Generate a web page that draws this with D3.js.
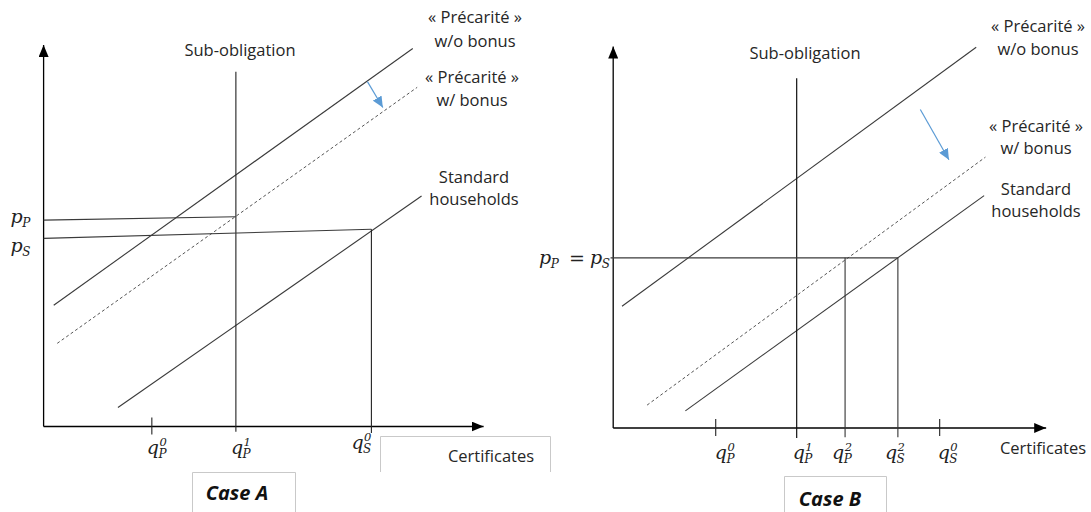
<!DOCTYPE html>
<html><head><meta charset="utf-8">
<script src="https://cdn.jsdelivr.net/npm/d3@7"></script>
<style>
body{margin:0;background:#fff;}
svg{display:block;}
.lbl{font-family:"Open Sans",Lato,sans-serif;font-size:16.5px;fill:#262626;}
.case{font-family:"Open Sans",Lato,sans-serif;font-size:20px;font-weight:bold;font-style:italic;fill:#111;}
.math{font-family:"DejaVu Serif","Liberation Serif",serif;font-style:italic;fill:#222;}
</style></head><body>
<svg id="c" width="1091" height="512"></svg>
<script>
// ---------- DATA (diagram units) ----------
// Case A
const caseA_woBonus   = [[0.23,3.18],[8.39,9.91]];
const caseA_wBonus    = [[0.31,2.18],[8.49,8.89]];
const caseA_standard  = [[1.69,0.50],[8.59,6.04]];
const caseA_subObl    = [[4.37,9.30],[4.37,-0.14]];
const caseA_pP        = [[0,5.41],[4.37,5.50]];
const caseA_pS        = [[0,4.93],[7.45,5.17]];
const caseA_dropS     = [[7.45,5.17],[7.45,-0.17]];
const caseA_shift     = [[7.36,9.04],[7.71,8.36]];
const caseA_qTicks    = [{base:"q",sub:"P",sup:"0",v:2.46},{base:"q",sub:"P",sup:"1",v:4.37},{base:"q",sub:"S",sup:"0",v:7.45}];
const caseA_smallTicks= [2.46];
const caseA_pLabels   = [{base:"p",sub:"P",v:5.41},{base:"p",sub:"S",v:4.93}];
// Case B
const caseB_woBonus   = [[0.20,3.19],[8.25,9.98]];
const caseB_wBonus    = [[0.77,0.60],[8.46,7.10]];
const caseB_standard  = [[1.64,0.45],[8.43,6.09]];
const caseB_subObl    = [[4.17,9.17],[4.17,-0.26]];
const caseB_p         = [[-0.06,4.46],[6.47,4.46]];
const caseB_dropP     = [[5.27,4.46],[5.27,-0.24]];
const caseB_dropS     = [[6.47,4.46],[6.47,-0.24]];
const caseB_shift     = [[6.98,8.35],[7.63,7.03]];
const caseB_qTicks    = [{base:"q",sub:"P",sup:"0",v:2.33},{base:"q",sub:"P",sup:"1",v:4.17},{base:"q",sub:"P",sup:"2",v:5.27},{base:"q",sub:"S",sup:"2",v:6.47},{base:"q",sub:"S",sup:"0",v:7.42}];
const caseB_smallTicks= [2.33,7.42];
// Text
const curveLabels = [["« Précarité »","w/o bonus"],["« Précarité »","w/ bonus"],["Standard","households"]];
const axisTitle = "Certificates";
const obligationLabel = "Sub-obligation";
const caseTitles = ["Case A","Case B"];

// ---------- LAYOUT ----------
const svg = d3.select("#c");
const defs = svg.append("defs");
function marker(id,color,w,h){
  defs.append("marker").attr("id",id).attr("viewBox",`0 0 ${w} ${h}`)
    .attr("refX",w).attr("refY",h/2).attr("markerWidth",w).attr("markerHeight",h)
    .attr("markerUnits","userSpaceOnUse").attr("orient","auto")
    .append("path").attr("d",`M0,0L${w},${h/2}L0,${h}Z`).attr("fill",color);
}
marker("axArrow","#000",12,10);
marker("blueArrow","#5b9bd5",11,10);

const panels = [
  {x:d3.scaleLinear().domain([0,10]).range([43.6,483.6]),
   y:d3.scaleLinear().domain([0,10]).range([426.5,45]),
   xEnd:10, yEnd:10},
  {x:d3.scaleLinear().domain([0,10]).range([613.2,1053.2]),
   y:d3.scaleLinear().domain([0,10]).range([428,46.5]),
   xEnd:9.84, yEnd:10}
];

function drawLine(g,P,pts,opts={}){
  const line = d3.line().x(d=>P.x(d[0])).y(d=>P.y(d[1]));
  const p = g.append("path").attr("d",line(pts)).attr("fill","none")
    .attr("stroke",opts.color||"#3a3a3a").attr("stroke-width",opts.w||1.1);
  if(opts.dash) p.attr("stroke-dasharray",opts.dash);
  if(opts.marker) p.attr("marker-end",`url(#${opts.marker})`);
  return p;
}
function mathLabel(g,x,y,base,sub,sup,size=19){
  const t = g.append("text").attr("class","math").attr("x",x).attr("y",y)
    .attr("font-size",size).text(base);
  const w = t.node().getComputedTextLength();
  if(sub) g.append("text").attr("class","math").attr("x",x+w-0.5).attr("y",y+4)
    .attr("font-size",12).text(sub);
  if(sup) g.append("text").attr("class","math").attr("x",x+w+0.5).attr("y",y-8)
    .attr("font-size",11.5).attr("font-style","normal").text(sup);
  return w;
}
function drawAxes(g,P){
  g.append("line").attr("x1",P.x(0)).attr("y1",P.y(0)).attr("x2",P.x(0)).attr("y2",P.y(P.yEnd))
    .attr("stroke","#000").attr("stroke-width",1.3).attr("marker-end","url(#axArrow)");
  g.append("line").attr("x1",P.x(0)).attr("y1",P.y(0)).attr("x2",P.x(P.xEnd)).attr("y2",P.y(0))
    .attr("stroke","#000").attr("stroke-width",1.3).attr("marker-end","url(#axArrow)");
}
function smallTicks(g,P,vals){
  vals.forEach(v=>g.append("line").attr("x1",P.x(v)).attr("x2",P.x(v))
    .attr("y1",P.y(0)-9).attr("y2",P.y(0)+8).attr("stroke","#222").attr("stroke-width",1.1));
}

// ---------- CASE A ----------
{
  const P = panels[0], g = svg.append("g");
  drawAxes(g,P);
  drawLine(g,P,caseA_woBonus);
  drawLine(g,P,caseA_wBonus,{dash:"3,2.5",color:"#555",w:1});
  drawLine(g,P,caseA_standard);
  drawLine(g,P,caseA_subObl,{color:"#222"});
  drawLine(g,P,caseA_pP);
  drawLine(g,P,caseA_pS);
  drawLine(g,P,caseA_dropS,{color:"#222"});
  drawLine(g,P,caseA_shift,{color:"#5b9bd5",w:1.2,marker:"blueArrow"});
  smallTicks(g,P,caseA_smallTicks);
  const qOff = [[-5,454],[-5,454],[-20,449]];
  caseA_qTicks.forEach((d,i)=>mathLabel(g,P.x(d.v)+qOff[i][0],qOff[i][1],d.base,d.sub,d.sup));
  const pBase = [223,251.5];
  caseA_pLabels.forEach((d,i)=>mathLabel(g,10.5,pBase[i],d.base,d.sub,null));
  const lx=[475,472,474], ly=[[23,46.5],[83,106],[183,205]];
  curveLabels.forEach((ls,i)=>ls.forEach((s,j)=>g.append("text").attr("class","lbl")
    .attr("x",lx[i]).attr("y",ly[i][j]).attr("text-anchor","middle").text(s)));
  g.append("text").attr("class","lbl").attr("x",240).attr("y",56).attr("text-anchor","middle").text(obligationLabel);
  g.append("path").attr("d","M380.5,472V436.5H550.5V472").attr("fill","none").attr("stroke","#c9c9c9");
  g.append("text").attr("class","lbl").attr("x",491).attr("y",462).attr("text-anchor","middle").text(axisTitle);
  g.append("path").attr("d","M192.5,512V472.5H295.5V512").attr("fill","none").attr("stroke","#c9c9c9");
  g.append("text").attr("class","case").attr("x",237).attr("y",500).attr("text-anchor","middle").text(caseTitles[0]);
}
// ---------- CASE B ----------
{
  const P = panels[1], g = svg.append("g");
  drawAxes(g,P);
  drawLine(g,P,caseB_woBonus);
  drawLine(g,P,caseB_wBonus,{dash:"3,2.5",color:"#555",w:1});
  drawLine(g,P,caseB_standard);
  drawLine(g,P,caseB_subObl,{color:"#111",w:1.2});
  drawLine(g,P,caseB_p);
  drawLine(g,P,caseB_dropP,{color:"#333"});
  drawLine(g,P,caseB_dropS,{color:"#333"});
  drawLine(g,P,caseB_shift,{color:"#5b9bd5",w:1.2,marker:"blueArrow"});
  smallTicks(g,P,caseB_smallTicks);
  const qOff = [-1,-4,-13,-13,-2];
  caseB_qTicks.forEach((d,i)=>mathLabel(g,P.x(d.v)+qOff[i],459,d.base,d.sub,d.sup));
  // p_P = p_S
  mathLabel(g,539,264,"p","P",null);
  g.append("text").attr("x",569).attr("y",265).attr("font-family","DejaVu Serif, serif").attr("font-size",19).attr("fill","#222").text("=");
  mathLabel(g,590,264,"p","S",null);
  const lx=[1038,1036,1036], ly=[[32,55],[132,154],[195,217]];
  curveLabels.forEach((ls,i)=>ls.forEach((s,j)=>g.append("text").attr("class","lbl")
    .attr("x",lx[i]).attr("y",ly[i][j]).attr("text-anchor","middle").text(s)));
  g.append("text").attr("class","lbl").attr("x",805).attr("y",59).attr("text-anchor","middle").text(obligationLabel);
  g.append("text").attr("class","lbl").attr("x",1043).attr("y",454).attr("text-anchor","middle").text(axisTitle);
  g.append("path").attr("d","M784.5,512V476.5H886.5V512").attr("fill","none").attr("stroke","#c9c9c9");
  g.append("text").attr("class","case").attr("x",830).attr("y",506).attr("text-anchor","middle").text(caseTitles[1]);
}
</script>
</body></html>
